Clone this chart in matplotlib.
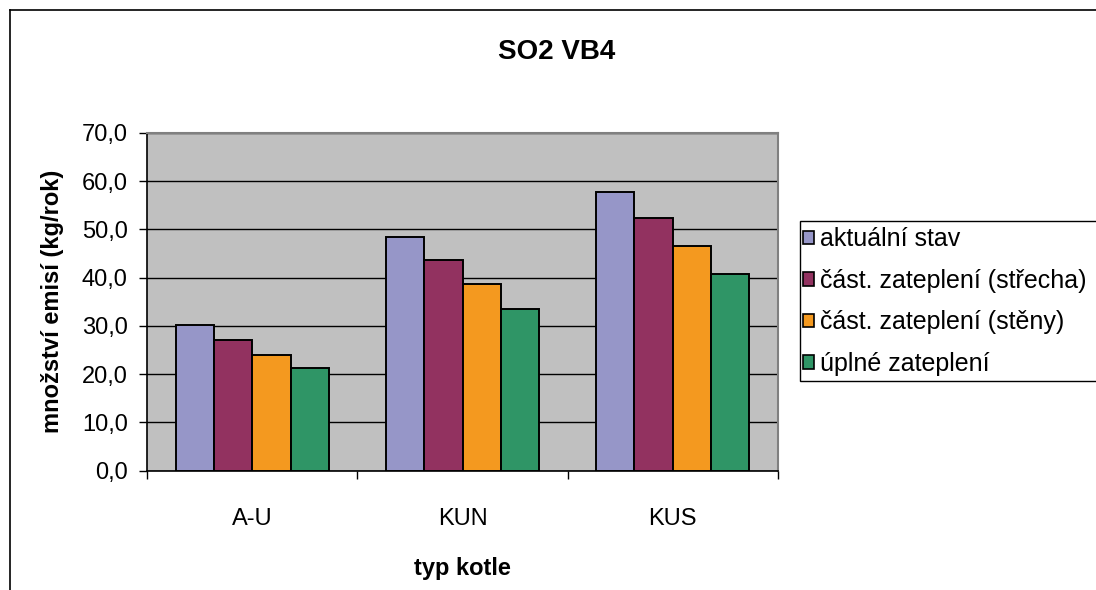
import matplotlib
matplotlib.use("Agg")
import matplotlib.pyplot as plt
from matplotlib.patches import Patch, Rectangle
from matplotlib.lines import Line2D
from matplotlib.ticker import FuncFormatter, FixedLocator
import numpy as np

plt.rcParams['font.family'] = ['Liberation Sans', 'DejaVu Sans']

# data
categories = ['A-U', 'KUN', 'KUS']
series_names = ['aktuální stav',
                'část. zateplení (střecha)',
                'část. zateplení (stěny)',
                'úplné zateplení']
aktualni = [30.3, 48.5, 57.7]
strecha = [27.0, 43.6, 52.3]
steny = [24.0, 38.6, 46.5]
uplne = [21.2, 33.5, 40.7]
colors = ['#9696C8', '#923260', '#F4991F', '#2F9566']

W, H = 1096, 590
fig = plt.figure(figsize=(W / 100, H / 100), dpi=100)
fig.patch.set_facecolor('white')

# outer chart border (left and top visible, rest runs off the image)
fig.add_artist(Line2D([9.5 / W, 9.5 / W], [0, 1 - 10 / H], color='black', lw=1.2,
                      transform=fig.transFigure))
fig.add_artist(Line2D([9.5 / W, 1], [1 - 10 / H, 1 - 10 / H], color='black', lw=1.2,
                      transform=fig.transFigure))

left, right = 147.3 / W, 777.7 / W
bottom, top = 1 - 470.7 / H, 1 - 133 / H
ax = fig.add_axes([left, bottom, right - left, top - bottom])
ax.set_facecolor('#C0C0C0')

values = [aktualni, strecha, steny, uplne]
n = len(values)
bw = 1 / (n + 1.5)
x = np.arange(len(categories))
for i, (vals, col) in enumerate(zip(values, colors)):
    offs = (i - (n - 1) / 2) * bw
    ax.bar(x + offs, vals, width=bw, color=col, edgecolor='black',
           linewidth=1.4, zorder=3, label=series_names[i])

ax.set_xlim(-0.5, len(categories) - 0.5)
ax.set_ylim(0, 70)
ax.set_yticks(np.arange(0, 71, 10))
ax.yaxis.set_major_formatter(FuncFormatter(lambda v, p: ('%.1f' % v).replace('.', ',')))
ax.grid(axis='y', color='black', lw=1.0, zorder=1)
ax.set_axisbelow(True)

fs = 17
ax.set_xticks(x)
ax.set_xticklabels(categories)
ax.xaxis.set_minor_locator(FixedLocator(np.arange(-0.5, len(categories), 1)))
ax.tick_params(axis='x', which='major', length=0, pad=27, labelsize=fs)
ax.tick_params(axis='x', which='minor', length=6, width=1, color='black')
ax.tick_params(axis='y', length=6, width=1, pad=8, labelsize=fs)

for s in ['left', 'bottom']:
    ax.spines[s].set_color('black')
    ax.spines[s].set_linewidth(1.2)
for s in ['top', 'right']:
    ax.spines[s].set_color('#808080')
    ax.spines[s].set_linewidth(1.5)

ax.set_xlabel('typ kotle', fontsize=fs, fontweight='bold', va='center')
ax.xaxis.set_label_coords(0.5, -(568 - 470.7) / (470.7 - 133))
ax.set_ylabel('množství emisí (kg/rok)', fontsize=fs, fontweight='bold', va='center')
ax.yaxis.set_label_coords(-(147.3 - 53) / (777.7 - 147.3), 0.5)

fig.text(557 / W, 1 - 52 / H, 'SO2 VB4', fontsize=20, fontweight='bold',
         ha='center', va='center')

# legend box runs off the right edge, as in the original
fig.add_artist(Rectangle((799.5 / W, 1 - 380.7 / H), (W + 10 - 799.5) / W, 160 / H,
                         transform=fig.transFigure, facecolor='white',
                         edgecolor='black', lw=1.0))
handles = [Patch(facecolor=c, edgecolor='black', linewidth=1.2) for c in colors]
leg = fig.legend(handles, series_names, loc='center left',
                 bbox_to_anchor=(803 / W, 1 - 301.7 / H), fontsize=18,
                 frameon=False, borderpad=0, borderaxespad=0,
                 handlelength=0.45, handleheight=0.45, handletextpad=0.25,
                 labelspacing=0.7)

fig.savefig('out.png', dpi=100)
